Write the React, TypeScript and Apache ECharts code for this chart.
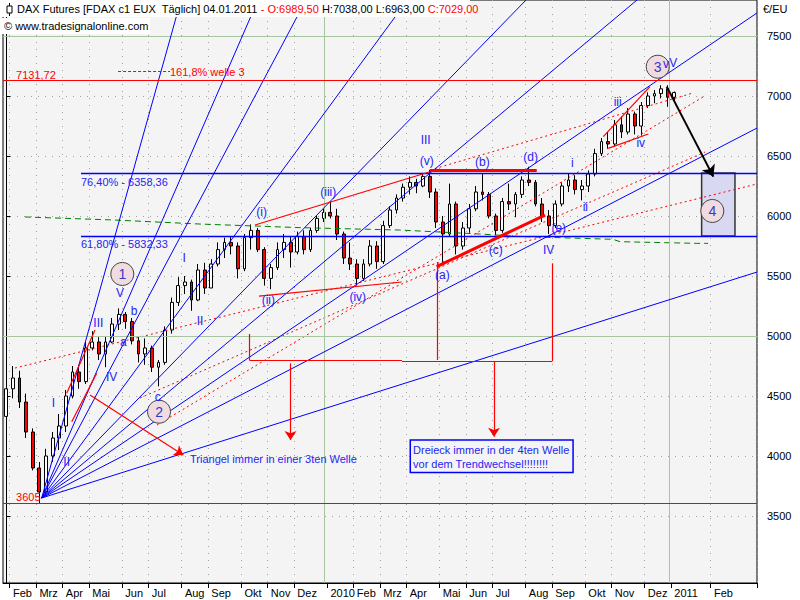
import React, { useEffect, useRef } from "react";
import * as echarts from "echarts";

// ---------- data (weekly candles) ----------
const WEEK_COUNT = 114; // Jan 2009 week .. Mar 2011 (future space incl.)

const weekOpen = [
  4330, 4560, 4650, 4450, 4200, 3900, 3700, 4000, 4150, 4250,
  4500, 4700, 4620, 4900, 4950, 4850, 4950, 5100, 5180, 5120,
  4960, 4850, 4900, 4740, 4780, 5050, 5280, 5420, 5450, 5300,
  5550, 5400, 5600, 5720, 5780, 5750, 5560, 5820, 5880, 5720,
  5480, 5570, 5720, 5780, 5700, 5830, 5720, 5880, 5980, 6030,
  6000, 5850, 5650, 5600, 5480, 5600, 5750, 5620, 5920, 6050,
  6150, 6240, 6280, 6250, 6330, 6200, 5950, 5850, 6100, 5750,
  5900, 6060, 6200, 6180, 6000, 5880, 6120, 6100, 6180, 6300,
  6280, 6100, 6000, 5920, 6100, 6250, 6300, 6220, 6250, 6350,
  6520, 6620, 6600, 6760, 6700, 6850, 6750, 6920, 7000, 7020,
  7060, 6989.5,
];
const weekHigh = [
  4630, 4750, 4710, 4520, 4230, 3950, 4060, 4200, 4350, 4550,
  4750, 4760, 4950, 5040, 4990, 5000, 5150, 5230, 5200, 5150,
  4990, 4980, 4920, 4800, 5080, 5320, 5490, 5500, 5470, 5600,
  5610, 5640, 5780, 5820, 5830, 5780, 5850, 5930, 5900, 5740,
  5600, 5780, 5850, 5830, 5870, 5880, 5900, 6000, 6060, 6120,
  6060, 5870, 5780, 5640, 5640, 5800, 5790, 5960, 6080, 6180,
  6270, 6330, 6310, 6360, 6385, 6230, 6000, 6270, 6120, 5950,
  6100, 6250, 6350, 6200, 6020, 6150, 6270, 6200, 6330, 6410,
  6300, 6150, 6050, 6130, 6280, 6350, 6340, 6300, 6380, 6560,
  6650, 6700, 6800, 6830, 6900, 6870, 6950, 7030, 7050, 7090,
  7090, 7038,
];
const weekLow = [
  4290, 4480, 4400, 4150, 3880, 3605, 3680, 3950, 4050, 4200,
  4480, 4560, 4600, 4880, 4800, 4740, 4940, 5050, 5060, 4930,
  4780, 4760, 4700, 4580, 4760, 5020, 5250, 5350, 5210, 5290,
  5350, 5400, 5580, 5650, 5680, 5480, 5540, 5720, 5700, 5420,
  5390, 5550, 5650, 5570, 5680, 5680, 5700, 5860, 5950, 5980,
  5800, 5600, 5550, 5420, 5460, 5580, 5560, 5600, 5900, 6020,
  6120, 6180, 6190, 6240, 6150, 5900, 5600, 5830, 5680, 5720,
  5860, 6040, 6130, 5980, 5840, 5860, 6050, 5990, 6150, 6250,
  6080, 5950, 5850, 5900, 6080, 6200, 6180, 6130, 6200, 6330,
  6500, 6560, 6580, 6650, 6680, 6680, 6670, 6900, 6940, 6980,
  6910, 6963,
];
const weekClose = [
  4560, 4650, 4450, 4200, 3900, 3700, 4000, 4150, 4250, 4500,
  4700, 4620, 4900, 4950, 4850, 4950, 5100, 5180, 5120, 4960,
  4850, 4900, 4740, 4780, 5050, 5280, 5420, 5450, 5300, 5550,
  5400, 5600, 5720, 5780, 5750, 5560, 5820, 5880, 5720, 5480,
  5570, 5720, 5780, 5700, 5830, 5720, 5880, 5980, 6030, 6000,
  5850, 5650, 5600, 5480, 5600, 5750, 5620, 5920, 6050, 6150,
  6240, 6280, 6250, 6330, 6200, 5950, 5850, 6100, 5750, 5900,
  6060, 6200, 6180, 6000, 5880, 6120, 6100, 6180, 6300, 6280,
  6100, 6000, 5920, 6100, 6250, 6300, 6220, 6250, 6350, 6520,
  6620, 6600, 6760, 6700, 6850, 6750, 6920, 7000, 7020, 7060,
  6990, 7029,
];

const monthTickWeeks = [1, 5, 9, 13, 18, 22, 27, 31, 36, 40, 44, 49, 53, 57, 61, 66, 70, 74, 79, 83, 88, 92, 97, 101, 107];
const monthLabels = ["Feb", "Mrz", "Apr", "Mai", "Jun", "Jul", "Aug", "Sep", "Okt", "Nov", "Dez", "2010", "Feb", "Mrz", "Apr", "Mai", "Jun", "Jul", "Aug", "Sep", "Okt", "Nov", "Dez", "2011", "Feb"];
const yearTickWeeks = [49, 101];
const yearLinePos = [48.05, 100.2];
const priceTicks = [3500, 4000, 4500, 5000, 5500, 6000, 6500, 7000, 7500];
const greenPriceLines = [5000, 7500];

// fan from the March 2009 low: [week, price]
const fanOrigin = [5.35, 3650];
const fanEnds = [
  [26.41, 7800], [38.05, 7800], [45.31, 7800], [60.66, 7800], [78.58, 7800],
  [95.36, 7800], [113.5, 7692], [113.5, 6733], [113.5, 5533],
];

const fibLevels = [6358.36, 5832.33];
const fibTexts = ["76,40% - 6358,36", "61,80% - 5832,33"];
const fibTextPrices = [6281, 5767];
const fibStartWeek = 11.29;
const redLevels = [7131.72, 3605];

const redSolidSegs = [
  [[9.13, 4522], [13.41, 5050]],
  [[9.89, 4286], [13.67, 4689]],
  [[37.6, 5925], [64.06, 6369]],
  [[38.2, 5333], [59.78, 5450]],
  [[90.26, 6661], [97.32, 7078]],
  [[91.0, 6564], [97.07, 6683]],
  [[36.75, 5017], [36.75, 4800]],
  [[36.75, 4800], [59.83, 4800]],
  [[59.83, 4792], [82.56, 4792]],
  [[82.56, 4792], [82.56, 5606]],
  [[65.1, 4800], [65.1, 5617]],
];
const redThickSegs = [
  [[64.06, 6379], [80.2, 6379]],
  [[65.07, 5578], [81.45, 6008]],
];
const redArrowSegs = [
  [[12.65, 4508], [26.76, 4008]],
  [[42.97, 4772], [42.97, 4133]],
  [[73.74, 4786], [73.74, 4161]],
];
const redDottedSegs = [
  [[1.31, 4733], [113.5, 6267]],
  [[20.21, 4483], [105.64, 6533]],
  [[22.78, 4258], [105.34, 6992]],
  [[64.06, 6383], [103.82, 7025]],
];
const redDashSeg = [[16.9, 7203], [24.75, 7203]];
const blackArrowSeg = [[99.85, 7078], [106.9, 6328]];
const greenDashPts = [
  [2.83, 5992], [16.13, 5967], [29.29, 5933], [44.4, 5903], [59.5, 5883],
  [71.6, 5850], [77.7, 5829], [91.7, 5806], [92.8, 5786], [104.4, 5772], [106.1, 5772],
];
const targetBox = [[105.13, 6358.36], [110.17, 5832.33]];

const circleMarks = [
  ["1", 17.54, 5517],
  ["2", 23.09, 4369],
  ["3", 98.49, 7244],
  ["4", 106.74, 6042],
];

const waveLabels = [
  ["I", 7.11, 4444], ["II", 9.13, 3952], ["III", 13.91, 5106], ["IV", 15.93, 4661],
  ["V", 17.19, 5356], ["a", 17.69, 4952], ["b", 19.31, 5211], ["c", 22.89, 4494],
  ["I", 26.91, 5646], ["II", 29.29, 5125],
  ["(i)", 38.61, 6036], ["(ii)", 39.61, 5300], ["(iii)", 48.68, 6202], ["(iv)", 53.13, 5322],
  ["(v)", 63.56, 6461], ["III", 63.41, 6633],
  ["(a)", 65.92, 5508], ["(b)", 71.97, 6452], ["(c)", 74.0, 5715], ["(d)", 79.28, 6494],
  ["(e)", 83.52, 5902], ["IV", 82.0, 5717],
  ["i", 85.57, 6439], ["ii", 87.54, 6077], ["iii", 92.44, 6952], ["iv", 95.92, 6611],
  ["v", 99.74, 7267], ["V", 100.85, 7277],
];

const redNotes = [
  ["7131,72", 1.47, 7175],
  ["161,8% welle 3", 24.75, 7203],
  ["3605", 1.47, 3661],
];
const blueNotes = [
  ["Triangel immer in einer 3ten Welle", 27.77, 3975],
];
const boxNote = ["Dreieck immer in der 4ten Welle\nvor dem Trendwechsel!!!!!!!!", 61.19, 4127];

const FONT = "Liberation Sans";
const BLUE = "#0000FF";
const LABEL_BLUE = "#2525F5";
const RED = "#FF0000";

function buildOption() {
  const monthIndex = new Map<number, string>();
  monthTickWeeks.forEach((w, i) => monthIndex.set(w, monthLabels[i]));
  const categories = Array.from({ length: WEEK_COUNT }, (_, i) => "W" + i);
  const candles = weekOpen.map((o, i) => [o, weekClose[i], weekLow[i], weekHigh[i]]);
  const last = WEEK_COUNT - 0.5;

  const linesBase = {
    type: "lines",
    coordinateSystem: "cartesian2d",
    xAxisIndex: 1,
    yAxisIndex: 0,
    silent: true,
    polyline: false,
    clip: true,
  };
  const toLines = (segs: any[]) => segs.map((s) => ({ coords: s }));

  const textItem = (t: string, x: number, y: number, color: string, extra: any = {}) => ({
    value: [x, y],
    label: {
      show: true,
      formatter: t,
      color,
      opacity: 1,
      textBorderWidth: 0,
      textBorderColor: "transparent",
      position: "inside",
      fontFamily: FONT,
      fontSize: 11,
      ...extra,
    },
  });

  const textData: any[] = [];
  waveLabels.forEach(([t, x, y]) =>
    textData.push(textItem(t as string, x as number, y as number, LABEL_BLUE, { fontSize: 12, align: "center", verticalAlign: "middle" }))
  );
  redNotes.forEach(([t, x, y]) =>
    textData.push(textItem(t as string, x as number, y as number, RED, { align: "left", verticalAlign: "middle" }))
  );
  fibTexts.forEach((t, i) =>
    textData.push(textItem(t, fibStartWeek, fibTextPrices[i], LABEL_BLUE, { align: "left", verticalAlign: "middle" }))
  );
  blueNotes.forEach(([t, x, y]) =>
    textData.push(textItem(t as string, x as number, y as number, LABEL_BLUE, { align: "left", verticalAlign: "middle" }))
  );
  textData.push(
    textItem(boxNote[0] as string, boxNote[1] as number, boxNote[2] as number, LABEL_BLUE, {
      align: "left",
      verticalAlign: "top",
      lineHeight: 14,
      padding: [2, 3, 1, 2],
      borderColor: "#0000FF",
      borderWidth: 1.5,
      backgroundColor: "#F4F4F4",
    })
  );

  const solid = (color: string, width: number, type: any = "solid") => ({ color, width, type, opacity: 1 });

  return {
    animation: false,
    backgroundColor: "#FFFFFF",
    textStyle: { fontFamily: FONT },
    grid: {
      left: 3,
      right: 43,
      top: 0,
      bottom: 17,
      show: true,
      backgroundColor: "#F4F4F4",
      borderColor: "#000000",
      borderWidth: 1,
    },
    xAxis: [
      {
        type: "category",
        data: categories,
        boundaryGap: true,
        axisLine: { show: true, lineStyle: { color: "#000" } },
        axisTick: {
          show: true,
          length: 5,
          interval: (i: number) => monthIndex.has(i),
          lineStyle: { color: "#000" },
        },
        axisLabel: {
          show: true,
          interval: (i: number) => monthIndex.has(i),
          formatter: (_v: string, i: number) => monthIndex.get(i) ?? "",
          align: "left",
          color: "#000",
          fontSize: 11,
          fontFamily: FONT,
          margin: 4,
        },
        splitLine: {
          show: true,
          interval: (i: number) => monthIndex.has(i) && !yearTickWeeks.includes(i),
          lineStyle: { color: "#A0A0A0", type: [1, 6], width: 1 },
        },
      },
      {
        type: "value",
        min: -0.5,
        max: last,
        show: false,
      },
    ],
    yAxis: [
      {
        type: "value",
        position: "right",
        min: 2941.67,
        max: 7800,
        axisLine: { show: true, lineStyle: { color: "#000" } },
        axisTick: { show: true, length: 4, customValues: priceTicks, lineStyle: { color: "#000" } },
        axisLabel: {
          customValues: priceTicks,
          formatter: (v: number) => String(v),
          color: "#000",
          fontSize: 11,
          fontFamily: FONT,
          margin: 10,
        },
        splitLine: { show: true, lineStyle: { color: "#A0A0A0", type: [1, 6], width: 1 } },
      },
    ],
    graphic: [
      { type: "rect", shape: { x: 0, y: 0, width: 470, height: 17 }, style: { fill: "#FFFFFF" }, z: 100 },
      { type: "rect", shape: { x: 0, y: 18, width: 150, height: 16 }, style: { fill: "#FFFFFF" }, z: 100 },
      { type: "line", shape: { x1: 9.5, y1: 3, x2: 9.5, y2: 16 }, style: { stroke: "#000", lineWidth: 1 }, z: 101 },
      { type: "rect", shape: { x: 7, y: 6, width: 5, height: 7 }, style: { fill: "#FFFFFF", stroke: "#000", lineWidth: 1 }, z: 102 },
      {
        type: "text",
        x: 17,
        y: 3,
        z: 103,
        style: {
          text: "{k|DAX Futures [FDAX c1 EUX  Täglich] 04.01.2011 }{r|- O:6989,50}{k| H:7038,00 L:6963,00 }{r|C:7029,00}",
          font: "11px " + FONT,
          rich: {
            k: { fill: "#000000", fontSize: 11, fontFamily: FONT },
            r: { fill: "#FF0000", fontSize: 11, fontFamily: FONT },
          },
        },
      },
      {
        type: "text",
        x: 4,
        y: 20,
        z: 103,
        style: { text: "© www.tradesignalonline.com", fill: "#000", font: "11px " + FONT },
      },
      {
        type: "text",
        x: 763,
        y: 3,
        z: 103,
        style: { text: "€/EU", fill: "#000", font: "11px " + FONT },
      },
    ],
    series: [
      {
        name: "grid-major",
        type: "line",
        xAxisIndex: 1,
        yAxisIndex: 0,
        data: [[-10, -10]],
        symbol: "none",
        silent: true,
        z: 1,
        markLine: {
          silent: true,
          symbol: "none",
          label: { show: false },
          lineStyle: { color: "#A8C4A0", type: "solid", width: 1, opacity: 1 },
          data: [
            ...yearLinePos.map((x) => ({ xAxis: x })),
            ...greenPriceLines.map((y) => ({ yAxis: y })),
          ],
        },
      },
      {
        name: "FDAX",
        type: "candlestick",
        xAxisIndex: 0,
        yAxisIndex: 0,
        data: candles,
        barMaxWidth: 4,
        z: 3,
        silent: true,
        itemStyle: {
          color: "#FFFFFF",
          color0: "#FF0000",
          borderColor: "#000000",
          borderColor0: "#000000",
          borderWidth: 1,
        },
      },
      {
        name: "green-dash",
        type: "line",
        xAxisIndex: 1,
        yAxisIndex: 0,
        silent: true,
        data: greenDashPts,
        symbol: "none",
        z: 4,
        lineStyle: solid("#008000", 1, [6, 4]),
      },
      {
        ...linesBase,
        name: "red-dotted",
        data: toLines(redDottedSegs),
        z: 4,
        lineStyle: solid(RED, 1, [2, 3]),
      },
      {
        ...linesBase,
        name: "fan",
        data: toLines(fanEnds.map((e) => [fanOrigin, e])),
        z: 5,
        lineStyle: solid(BLUE, 1),
      },
      {
        ...linesBase,
        name: "fib",
        data: toLines(fibLevels.map((v) => [[fibStartWeek, v], [last, v]])),
        z: 5,
        lineStyle: solid(BLUE, 1.3),
      },
      {
        ...linesBase,
        name: "red-levels",
        data: toLines(redLevels.map((v) => [[-0.5, v], [last, v]])),
        z: 5,
        lineStyle: solid(RED, 1.2),
      },
      {
        ...linesBase,
        name: "red-solid",
        data: toLines(redSolidSegs),
        z: 5,
        lineStyle: solid(RED, 1.2),
      },
      {
        ...linesBase,
        name: "red-thick",
        data: toLines(redThickSegs),
        z: 5,
        lineStyle: solid(RED, 3),
      },
      {
        ...linesBase,
        name: "red-dash",
        data: toLines([redDashSeg]),
        z: 5,
        lineStyle: solid(RED, 1, [3, 2]),
      },
      {
        ...linesBase,
        name: "red-arrows",
        data: toLines(redArrowSegs),
        z: 5,
        symbol: ["none", "arrow"],
        symbolSize: 9,
        itemStyle: { color: RED, opacity: 1 },
        lineStyle: solid(RED, 1.2),
      },
      {
        name: "target-box",
        type: "line",
        xAxisIndex: 1,
        yAxisIndex: 0,
        data: [[-10, -10]],
        symbol: "none",
        silent: true,
        z: 6,
        markArea: {
          silent: true,
          itemStyle: { color: "#D8D8F2", borderColor: "#333333", borderWidth: 1.5, opacity: 1 },
          data: [[{ coord: targetBox[0] }, { coord: targetBox[1] }]],
        },
      },
      {
        ...linesBase,
        name: "black-arrow",
        data: toLines([blackArrowSeg]),
        z: 7,
        symbol: ["none", "arrow"],
        symbolSize: 11,
        itemStyle: { color: "#000000", opacity: 1 },
        lineStyle: solid("#000000", 2),
      },
      {
        name: "circles",
        type: "scatter",
        xAxisIndex: 1,
        yAxisIndex: 0,
        silent: true,
        z: 8,
        symbol: "circle",
        symbolSize: 23,
        itemStyle: { color: "#F0DCE0", borderColor: "#444444", borderWidth: 1, opacity: 1 },
        label: {
          show: true,
          position: "inside",
          formatter: (p: any) => p.data[2],
          color: "#3838C8",
          textBorderWidth: 0,
          fontSize: 14,
          fontFamily: FONT,
        },
        data: circleMarks.map(([t, x, y]) => [x, y, t]),
      },
      {
        name: "texts",
        type: "scatter",
        xAxisIndex: 1,
        yAxisIndex: 0,
        silent: true,
        z: 9,
        symbolSize: 1,
        itemStyle: { color: "#F4F4F4", opacity: 0 },
        data: textData,
      },
    ],
  };
}

export default function App() {
  const ref = useRef<HTMLDivElement>(null);
  useEffect(() => {
    document.body.style.margin = "0";
    const chart = echarts.init(ref.current as HTMLDivElement, null, { renderer: "svg" });
    chart.setOption(buildOption() as any);
    return () => chart.dispose();
  }, []);
  return <div ref={ref} style={{ width: 800, height: 600 }} />;
}
